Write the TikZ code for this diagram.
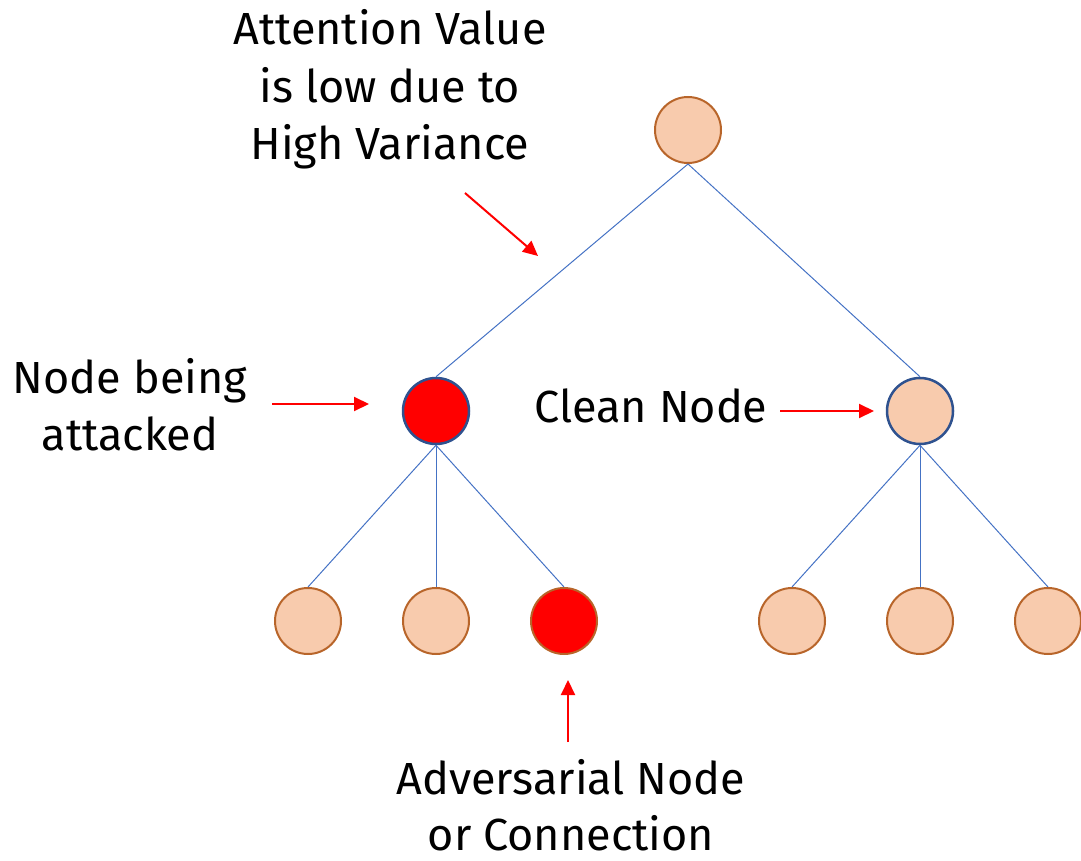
\documentclass[tikz,border=0pt]{standalone}
\usepackage{fontspec}
\setmainfont{Fira Sans}
\usetikzlibrary{arrows.meta}
\definecolor{peach}{HTML}{F8CBAD}
\definecolor{rim}{HTML}{B8652A}
\definecolor{navy}{HTML}{2F528F}
\definecolor{edgeblue}{HTML}{4472C4}
\tikzset{
  vertex/.style={circle, minimum size=66pt, inner sep=0pt, line width=2pt},
  leaf/.style={vertex, draw=rim, fill=peach},
  hub/.style={vertex, draw=navy, line width=2.5pt},
  link/.style={draw=edgeblue, line width=1pt},
  pointer/.style={draw=red, line width=2pt, -{Triangle[length=15pt,width=14pt]}},
  caption/.style={anchor=base, inner sep=0pt, font=\fontsize{45}{56}\selectfont}
}
\begin{document}
\begin{tikzpicture}[x=1pt,y=-1pt]
\useasboundingbox (0,0) rectangle (1081,861);

% tree
\node[leaf] (root) at (688,130) {};
\node[hub, fill=red] (lm) at (436,411) {};
\node[hub, fill=peach] (rm) at (920,411) {};
\node[leaf] (l1) at (308,621) {};
\node[leaf] (l2) at (436,621) {};
\node[leaf, fill=red] (l3) at (564,621) {};
\node[leaf] (r1) at (792,621) {};
\node[leaf] (r2) at (920,621) {};
\node[leaf] (r3) at (1048,621) {};

\draw[link] (root.south) -- (lm.north);
\draw[link] (root.south) -- (rm.north);
\foreach \c in {l1,l2,l3} \draw[link] (lm.south) -- (\c.north);
\foreach \c in {r1,r2,r3} \draw[link] (rm.south) -- (\c.north);

% labels
\node[caption] (ta) at (390,45) {Attention Value};
\node[caption] (tb) at (390,103) {is low due to};
\node[caption] (tc) at (390,160) {High Variance};
\node[caption] (na) at (130,393) {Node being};
\node[caption] (nb) at (130,450) {attacked};
\node[caption] (cn) at (651,422) {Clean Node};
\node[caption] (aa) at (571,794) {Adversarial Node};
\node[caption] (ab) at (571,850) {or Connection};

% pointers
\coordinate (p1s) at (465,193); \coordinate (p1e) at (538,256);
\coordinate (p2s) at (272,404); \coordinate (p2e) at (369,404);
\coordinate (p3s) at (780,411); \coordinate (p3e) at (874,411);
\coordinate (p4s) at (568,742); \coordinate (p4e) at (568,680);
\draw[pointer] (p1s) -- (p1e);
\draw[pointer] (p2s) -- (p2e);
\draw[pointer] (p3s) -- (p3e);
\draw[pointer] (p4s) -- (p4e);
\end{tikzpicture}
\end{document}
